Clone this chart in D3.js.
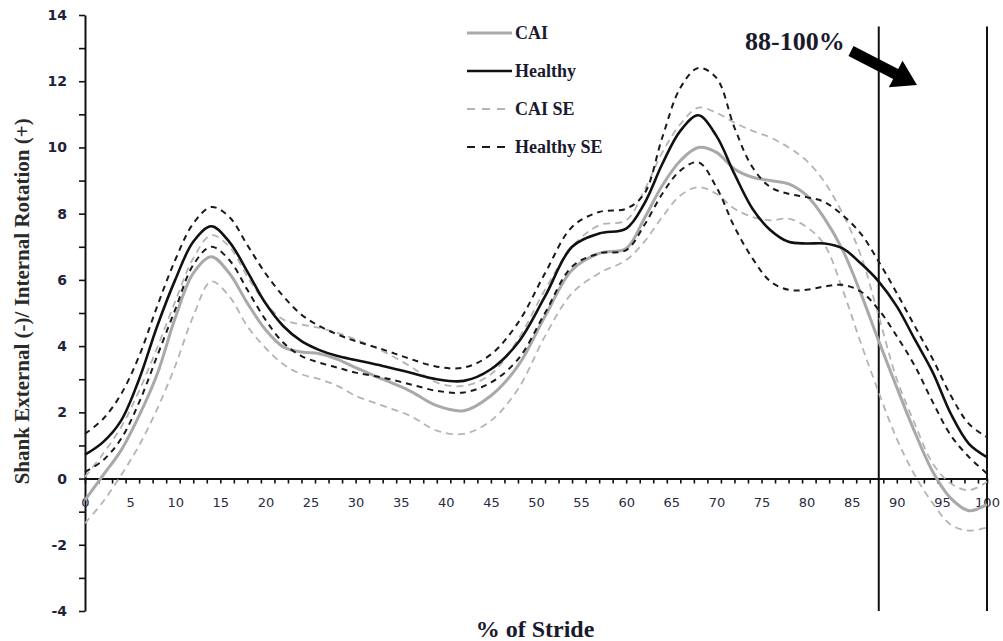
<!DOCTYPE html>
<html>
<head>
<meta charset="utf-8">
<script src="https://cdn.jsdelivr.net/npm/d3@7"></script>
<style>
  html, body { margin: 0; padding: 0; background: #fff; }
  svg { display: block; }
</style>
</head>
<body>
<svg id="chart" width="1003" height="641"></svg>
<script>
// Percent of stride sample points
const pct = [0,2,4,6,8,10,12,14,16,18,20,22,24,26,28,30,33,36,39,42,45,48,51,54,57,60,62,64,66,68,70,72,74,76,78,80,82,84,86,88,90,92,94,96,98,100];

// Shank rotation (deg): group means and +/- standard error bounds
const healthy = [0.72,1.1,1.75,3.0,4.6,6.0,7.15,7.62,7.15,6.25,5.3,4.6,4.15,3.88,3.7,3.58,3.4,3.2,3.0,2.95,3.3,4.1,5.5,7.0,7.4,7.55,8.3,9.5,10.5,10.97,10.35,9.2,8.15,7.5,7.15,7.1,7.1,6.95,6.5,5.95,5.2,4.2,3.2,1.95,1.05,0.65];
const healthyUpper = [1.35,1.8,2.55,3.7,5.2,6.6,7.7,8.2,7.9,7.05,6.2,5.5,4.95,4.6,4.35,4.15,3.9,3.62,3.38,3.35,3.75,4.7,6.2,7.6,8.05,8.15,8.6,10.3,11.8,12.4,12.1,10.6,9.4,8.8,8.6,8.5,8.35,7.95,7.4,6.55,5.6,4.6,3.6,2.5,1.65,1.25];
const healthyLower = [0.2,0.55,1.2,2.3,3.7,5.1,6.45,7.0,6.6,5.7,4.8,4.1,3.7,3.5,3.35,3.2,3.05,2.85,2.65,2.6,2.9,3.6,5.0,6.4,6.8,6.9,7.65,8.6,9.3,9.55,8.8,7.6,6.65,5.95,5.7,5.7,5.8,5.85,5.65,5.1,4.3,3.4,2.3,1.3,0.65,0.15];
const cai = [-0.65,0.1,0.85,1.9,3.15,4.85,6.2,6.7,6.2,5.3,4.5,3.97,3.82,3.77,3.6,3.35,3.0,2.65,2.2,2.05,2.5,3.4,4.9,6.3,6.8,6.95,7.85,8.85,9.6,10.0,9.85,9.35,9.1,9.0,8.9,8.55,7.85,6.9,5.6,4.15,2.75,1.4,0.2,-0.6,-0.97,-0.78];
const caiUpper = [0.05,0.75,1.55,2.65,3.95,5.35,6.65,7.35,7.0,6.1,5.3,4.8,4.65,4.55,4.4,4.2,3.85,3.4,2.9,2.8,3.15,4.2,5.7,7.0,7.65,7.8,8.7,9.85,10.7,11.2,11.05,10.75,10.5,10.3,10.0,9.6,8.95,8.0,6.75,4.9,3.0,1.65,0.45,-0.15,-0.35,-0.1];
const caiLower = [-1.35,-0.7,0.1,1.0,2.1,3.4,4.9,5.95,5.5,4.6,3.95,3.45,3.15,3.0,2.8,2.5,2.2,1.9,1.45,1.35,1.75,2.7,4.3,5.6,6.2,6.6,7.15,7.9,8.55,8.8,8.6,8.15,7.9,7.8,7.85,7.6,7.05,5.7,4.1,2.6,1.2,0.1,-0.75,-1.4,-1.57,-1.48];

// Axis ticks and labels
const yTickValues = d3.range(-4, 15, 1);
const yLabelValues = [-4,-2,0,2,4,6,8,10,12,14];
const xLabelValues = d3.range(0, 101, 5);
const xMinorTicks = d3.range(0, 100, 1.5).concat([100]);
const phaseBounds = [88, 100];

const legendItems = ["CAI", "Healthy", "CAI SE", "Healthy SE"];
const yTitle = "Shank External (-)/ Internal Rotation (+)";
const xTitle = "% of Stride";
const phaseLabel = "88-100%";

const svg = d3.select("#chart");

const x = d3.scaleLinear().domain([0, 100]).range([85, 987]);
const y = d3.scaleLinear().domain([-4, 14]).range([611, 15]);

const serif = "'Liberation Serif', 'Times New Roman', serif";

// Line styles
const styles = {
  "CAI":        { stroke: "#a9a9a9", width: 3,   dash: null },
  "Healthy":    { stroke: "#111111", width: 2.6, dash: null },
  "CAI SE":     { stroke: "#b4b4b4", width: 1.8, dash: "7,5" },
  "Healthy SE": { stroke: "#1a1a1a", width: 2,   dash: "6,5" }
};

// Y axis
const yAxis = d3.axisLeft(y)
  .tickValues(yTickValues)
  .tickSize(6)
  .tickSizeOuter(0)
  .tickPadding(12)
  .tickFormat(d => yLabelValues.includes(d) ? d : "");
const gy = svg.append("g").attr("transform", `translate(${x(0)},0)`).call(yAxis);
gy.select(".domain").attr("stroke", "#111").attr("stroke-width", 2);
gy.selectAll(".tick line").attr("stroke", "#111").attr("stroke-width", 1.6);
gy.selectAll(".tick text")
  .attr("font-family", "'DejaVu Sans', Verdana, sans-serif")
  .attr("font-weight", "bold")
  .attr("font-size", 14)
  .attr("fill", "#22223a");

// X axis at zero with minor ticks
const xAxisTicks = d3.axisBottom(x)
  .tickValues(xMinorTicks)
  .tickSize(5)
  .tickSizeOuter(0)
  .tickFormat("");
const gx = svg.append("g").attr("transform", `translate(0,${y(0)})`).call(xAxisTicks);
gx.select(".domain").attr("stroke", "#111").attr("stroke-width", 2);
gx.selectAll(".tick line").attr("stroke", "#111").attr("stroke-width", 1.6);

const xAxisLabels = d3.axisBottom(x)
  .tickValues(xLabelValues)
  .tickSize(0)
  .tickPadding(19)
  .tickFormat(d => d);
const gxl = svg.append("g").attr("transform", `translate(0,${y(0)})`).call(xAxisLabels);
gxl.select(".domain").remove();
gxl.selectAll(".tick text")
  .attr("font-family", "'DejaVu Sans', Verdana, sans-serif")
  .attr("font-size", 13)
  .attr("fill", "#2a2a40");

// Phase boundary lines
svg.append("g").selectAll("line")
  .data(phaseBounds)
  .join("line")
  .attr("x1", d => x(d)).attr("x2", d => x(d))
  .attr("y1", y(13.65)).attr("y2", y(-4))
  .attr("stroke", "#111").attr("stroke-width", 2);

// Curves
const line = d3.line()
  .x((d, i) => x(pct[i]))
  .y(d => y(d))
  .curve(d3.curveCatmullRom.alpha(0.5));

const series = [
  { values: caiUpper, style: "CAI SE" },
  { values: caiLower, style: "CAI SE" },
  { values: cai, style: "CAI" },
  { values: healthyUpper, style: "Healthy SE" },
  { values: healthyLower, style: "Healthy SE" },
  { values: healthy, style: "Healthy" }
];

svg.append("g").selectAll("path")
  .data(series)
  .join("path")
  .attr("d", d => line(d.values))
  .attr("fill", "none")
  .attr("stroke", d => styles[d.style].stroke)
  .attr("stroke-width", d => styles[d.style].width)
  .attr("stroke-dasharray", d => styles[d.style].dash)
  .attr("stroke-linejoin", "round");

// Legend
const legend = svg.append("g").attr("transform", "translate(467,0)");
const legendY = [33, 71, 109, 147];
legendItems.forEach((name, i) => {
  const s = styles[name];
  legend.append("line")
    .attr("x1", 0).attr("x2", 45)
    .attr("y1", legendY[i]).attr("y2", legendY[i])
    .attr("stroke", s.stroke)
    .attr("stroke-width", s.width)
    .attr("stroke-dasharray", s.dash ? "8,7" : null);
  legend.append("text")
    .attr("x", 48).attr("y", legendY[i] + 6)
    .attr("font-family", serif)
    .attr("font-weight", "bold")
    .attr("font-size", 18)
    .attr("fill", "#1a1a2e")
    .text(name);
});

// Phase annotation and arrow
svg.append("text")
  .attr("x", 745).attr("y", 50)
  .attr("font-family", serif)
  .attr("font-weight", "bold")
  .attr("font-size", 26)
  .attr("fill", "#1a1a2e")
  .text(phaseLabel);

const arrow = d3.path();
// Arrow pointing down-right into the 88-100% window
(function () {
  const x0 = 851, y0 = 51, x1 = 917, y1 = 85;
  const dx = x1 - x0, dy = y1 - y0, len = Math.hypot(dx, dy);
  const ux = dx / len, uy = dy / len, nx = -uy, ny = ux;
  const shaftW = 5.5, headW = 15, headL = 24;
  const bx = x1 - ux * headL, by = y1 - uy * headL;
  arrow.moveTo(x0 + nx * shaftW, y0 + ny * shaftW);
  arrow.lineTo(bx + nx * shaftW, by + ny * shaftW);
  arrow.lineTo(bx + nx * headW, by + ny * headW);
  arrow.lineTo(x1, y1);
  arrow.lineTo(bx - nx * headW, by - ny * headW);
  arrow.lineTo(bx - nx * shaftW, by - ny * shaftW);
  arrow.lineTo(x0 - nx * shaftW, y0 - ny * shaftW);
  arrow.closePath();
})();
svg.append("path").attr("d", arrow.toString()).attr("fill", "#000");

// Axis titles
svg.append("text")
  .attr("transform", `translate(29,${(y(0) + 124) / 2}) rotate(-90)`)
  .attr("text-anchor", "middle")
  .attr("font-family", serif)
  .attr("font-weight", "bold")
  .attr("font-size", 21)
  .attr("fill", "#2a2a2a")
  .text(yTitle);

svg.append("text")
  .attr("x", 535).attr("y", 637)
  .attr("text-anchor", "middle")
  .attr("font-family", serif)
  .attr("font-weight", "bold")
  .attr("font-size", 24)
  .attr("fill", "#1a1a2e")
  .text(xTitle);
</script>
</body>
</html>
